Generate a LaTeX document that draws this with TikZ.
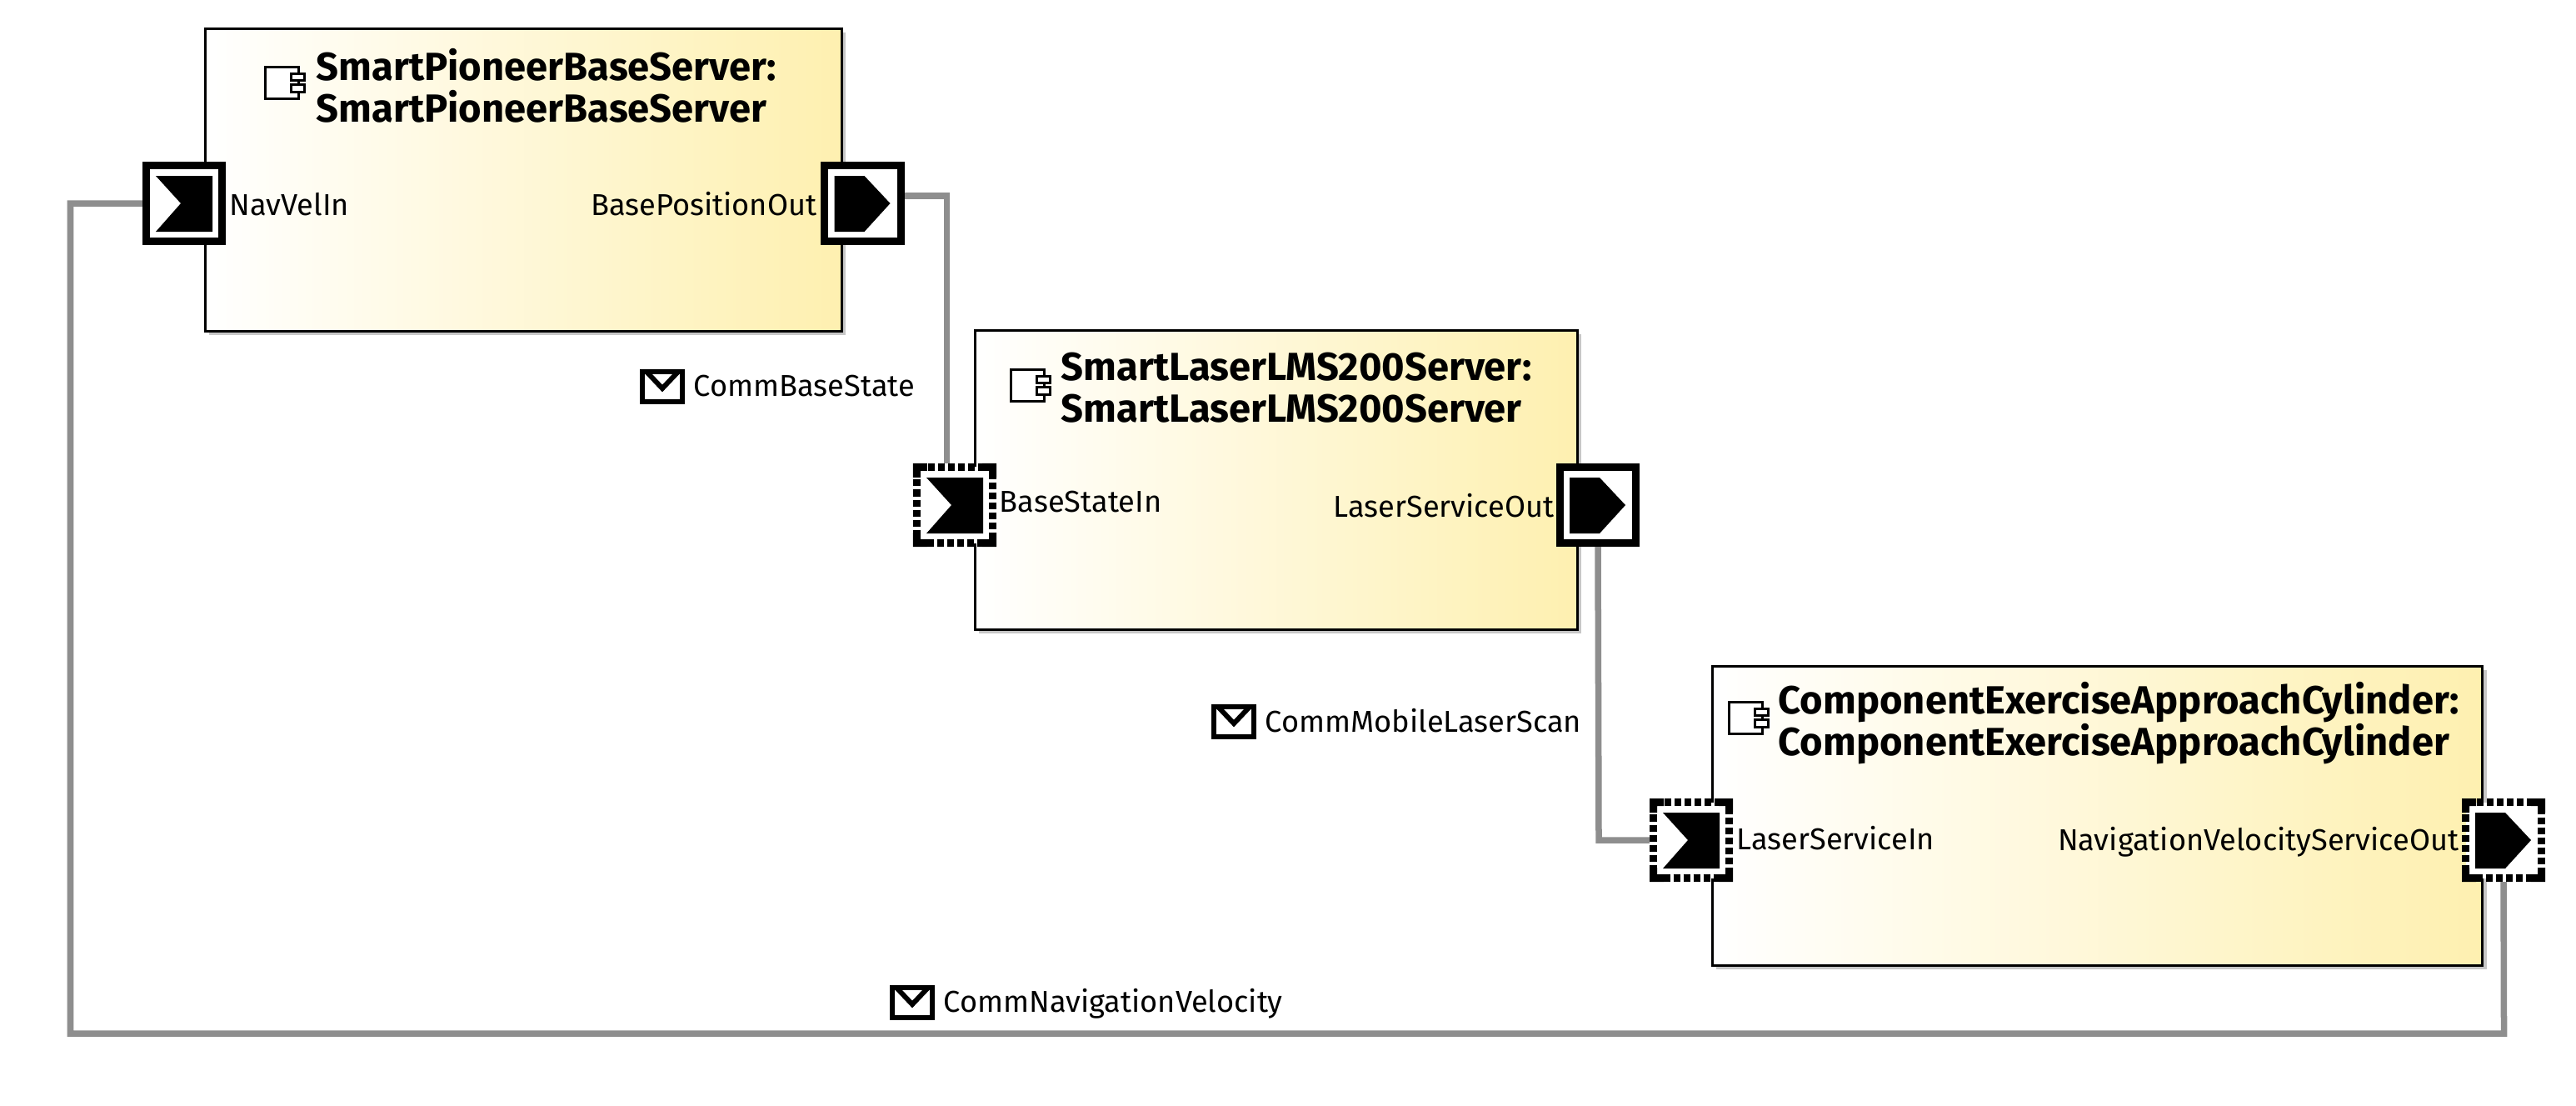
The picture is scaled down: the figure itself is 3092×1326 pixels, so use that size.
\documentclass[tikz,border=0pt]{standalone}
\usepackage{fontspec}
\setmainfont{Fira Sans}
\usetikzlibrary{shadows}
\definecolor{boxyellow}{HTML}{FEF0B0}
\definecolor{wiregray}{HTML}{8E8E8E}
\tikzset{
  compbox/.style={draw=black, line width=.03cm, left color=white, right color=boxyellow,
    anchor=north west, inner sep=0pt,
    general shadow={fill=black!22, shadow xshift=.05cm, shadow yshift=-.05cm}},
  portbox/.style={draw=black, fill=white, line width=.09cm, minimum size=.91cm, inner sep=0pt},
  dotted port/.style={portbox, dash pattern=on .08cm off .04cm},
  wire/.style={draw=wiregray, line width=.075cm},
  title/.style={anchor=west, align=left, inner sep=0pt, font=\bfseries\fontsize{13.4}{14.2}\selectfont},
  portlabel/.style={inner sep=0pt, font=\fontsize{10.3}{12}\selectfont},
  commlabel/.style={anchor=west, inner sep=0pt, font=\fontsize{10.3}{12}\selectfont},
  compicon/.pic={
    \draw [line width=.03cm, fill=white] (0,0) rectangle (40,38);
    \draw [line width=.03cm, fill=white] (31,8) rectangle ++(16,8);
    \draw [line width=.03cm, fill=white] (31,21) rectangle ++(16,9);
  },
  envelope/.pic={
    \draw [line width=.06cm, fill=white] (2,2) rectangle (50,38);
    \draw [line width=.06cm] (7,2) -- (26,22) -- (45,2);
  }
}
\begin{document}
\begin{tikzpicture}[x=.01cm, y=-.01cm]
  \useasboundingbox (0,0) rectangle (3092,1326);

  % Components
  \node (pioneer) [compbox, minimum width=7.64cm, minimum height=3.63cm] at (244.5,32.5) {};
  \node (laser) [compbox, minimum width=7.23cm, minimum height=3.59cm] at (1168.5,394.5) {};
  \node (exercise) [compbox, minimum width=9.24cm, minimum height=3.59cm] at (2053.5,797.5) {};

  % Titles
  \pic at (318,80) {compicon};
  \node (pioneertitle) [title] at (379,103) {SmartPioneerBaseServer:\\SmartPioneerBaseServer};
  \pic at (1213,443) {compicon};
  \node (lasertitle) [title] at (1273,465) {SmartLaserLMS200Server:\\SmartLaserLMS200Server};
  \pic at (2075,842) {compicon};
  \node (exercisetitle) [title] at (2134,868) {ComponentExerciseApproachCylinder:\\ComponentExerciseApproachCylinder};

  % Ports
  \node (navvelin) [portbox] at (221,244) {};
  \node (baseposout) [portbox] at (1035.5,244) {};
  \node (basestatein) [dotted port] at (1146,606) {};
  \node (laserout) [portbox] at (1918,606) {};
  \node (laserin) [dotted port] at (2030,1008) {};
  \node (navvelout) [dotted port] at (3005,1008) {};

  % Port corners
  \foreach \p in {basestatein, laserin, navvelout}
    \foreach \a/\sx/\sy in {north west/1/1, north east/-1/1, south west/1/-1, south east/-1/-1}
      \fill (\p.\a) -- ++(17*\sx,0) -- ++(0,9*\sy) -- ++(-8*\sx,0) -- ++(0,8*\sy) -- ++(-9*\sx,0) -- cycle;

  % Port marks
  \foreach \p in {navvelin, basestatein, laserin}
    \fill (\p.center) ++(-34,-33) -- ++(68,0) -- ++(0,67) -- ++(-68,0) -- ++(30,-34) -- cycle;
  \foreach \p in {baseposout, laserout, navvelout}
    \fill (\p.center) ++(-34,-33) -- ++(36,0) -- ++(31,33) -- ++(-31,34) -- ++(-36,0) -- cycle;

  % Port labels
  \node (navvelinlabel) [portlabel, anchor=west] at (275,245) {NavVelIn};
  \node (baseposoutlabel) [portlabel, anchor=east] at (981,245) {BasePositionOut};
  \node (basestateinlabel) [portlabel, anchor=west] at (1199,602) {BaseStateIn};
  \node (laseroutlabel) [portlabel, anchor=east] at (1866,607) {LaserServiceOut};
  \node (laserinlabel) [portlabel, anchor=west] at (2084,1006) {LaserServiceIn};
  \node (navveloutlabel) [portlabel, anchor=east] at (2952,1010) {NavigationVelocityServiceOut};

  % Edges
  \coordinate (basebend) at (1136.5,235);
  \coordinate (laserbend) at (1919,1008);
  \coordinate (navbendleft) at (84.5,1240);
  \coordinate (navbendright) at (3005.5,1240);
  \draw [wire] (navvelin.west) -| (navbendleft) -- (navbendright) -- (navvelout.south);
  \draw [wire] (baseposout.east |- basebend) -- (basebend) -- (basestatein.north -| basebend);
  \draw [wire] (laserout.south) -- (laserbend) -- (laserin.west);

  % Communication objects
  \pic at (769,444) {envelope};
  \node (commbase) [commlabel] at (832,463) {CommBaseState};
  \pic at (1455,846) {envelope};
  \node (commscan) [commlabel] at (1518,865) {CommMobileLaserScan};
  \pic at (1069,1183) {envelope};
  \node (commnav) [commlabel] at (1132,1204) {CommNavigationVelocity};
\end{tikzpicture}
\end{document}
